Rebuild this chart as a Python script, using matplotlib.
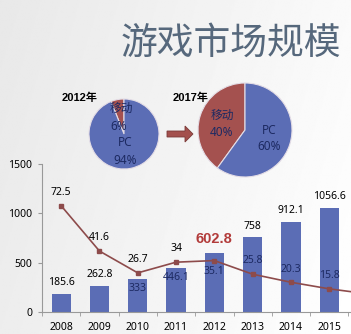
import matplotlib.pyplot as plt
import numpy as np
from matplotlib.patches import FancyArrow

# chart data
years = ["2008", "2009", "2010", "2011", "2012", "2013", "2014", "2015"]
market = [185.6, 262.8, 333, 446.1, 602.8, 758, 912.1, 1056.6]
growth = [72.5, 41.6, 26.7, 34, 35.1, 25.8, 20.3, 15.8]
growth_next = 12.4  # line runs off the right edge toward the next year
pie_labels = ["移动", "PC"]
share_2012 = [6, 94]
share_2017 = [40, 60]

plt.rcParams["font.family"] = ["Noto Sans", "Noto Sans CJK SC", "DejaVu Sans"]
BOLD_FONT = ["Liberation Sans", "Noto Sans CJK SC", "DejaVu Sans"]

W, H = 351, 334
BLUE = "#5b6db5"
RED = "#a4514f"
LINE = "#8d4b4b"
NAVY = "#1d2a62"

fig = plt.figure(figsize=(W / 100, H / 100), dpi=100)

# light gray-to-white background
bg = fig.add_axes([0, 0, 1, 1], zorder=-10)
gx = np.linspace(0, 1, 256)
gy = np.linspace(0, 1, 256)
grad = 0.91 + 0.07 * gx[None, :] + 0.02 * gy[:, None]
bg.imshow(grad, cmap="gray", vmin=0, vmax=1, aspect="auto", extent=[0, 1, 0, 1])
bg.axis("off")

# bar chart: market size
ax = fig.add_axes([42 / W, 22 / H, (W - 42) / W, 148 / H])
ax.patch.set_alpha(0)
x = np.arange(len(years))
ax.bar(x, market, width=0.5, color=BLUE, zorder=2)
ax.set_xlim(-0.5, -0.5 + (W - 42) / 38.3)
ax.set_ylim(0, 1500)
ax.set_yticks([0, 500, 1000, 1500])
ax.set_xticks(x, years)
ax.set_xticks(np.arange(-0.5, 8, 1), minor=True)
ax.tick_params(axis="x", which="major", length=0, pad=7, labelsize=7.5)
ax.tick_params(axis="x", which="minor", length=3, color="#999999")
ax.tick_params(axis="y", length=3, color="#999999", pad=4, labelsize=7.5)
for s in ["top", "right"]:
    ax.spines[s].set_visible(False)
for s in ["left", "bottom"]:
    ax.spines[s].set_color("#999999")

for i, v in enumerate(market):
    if i in (2, 3):
        ax.annotate(str(v), (i, v), xytext=(0, -7), textcoords="offset points",
                    ha="center", va="center", fontsize=7.5, color=NAVY)
    elif i == 4:
        ax.annotate(str(v), (i, v), xytext=(0, 9.5), textcoords="offset points",
                    ha="center", va="center", fontsize=10.5, fontweight="bold",
                    family=BOLD_FONT, color="#b23b3a")
    else:
        ax.annotate(str(v), (i, v), xytext=(0, 8), textcoords="offset points",
                    ha="center", va="center", fontsize=7.5, color="black")

# growth rate line on a hidden second axis
ax2 = ax.twinx()
ax2.set_ylim(0, 101)
ax2.plot(np.arange(len(growth) + 1), growth + [growth_next], color=LINE, lw=1.2,
         marker="s", ms=3.5, markevery=list(range(len(growth))), zorder=3)
ax2.axis("off")
for i, v in enumerate(growth):
    inside = i >= 4
    dy = -8 if i == 4 else 9.5
    ax2.annotate(str(v), (i, v), xytext=(0, dy), textcoords="offset points",
                 ha="center", va="center", fontsize=7.5,
                 color=NAVY if inside else "black")

# overlay in pixel coordinates for title, pies and arrow
ov = fig.add_axes([0, 0, 1, 1], zorder=5)
ov.patch.set_alpha(0)
wedge = dict(edgecolor="#e4dde6", linewidth=0.8)
ov.pie(share_2012, center=(124, H - 134), radius=35, startangle=90,
       colors=[RED, BLUE], wedgeprops=wedge, frame=True)
ov.pie(share_2017, center=(245, H - 130), radius=47, startangle=90,
       colors=[RED, BLUE], wedgeprops=wedge, frame=True)
ov.set_xlim(0, W)
ov.set_ylim(0, H)
ov.axis("off")

ov.add_patch(FancyArrow(167, H - 134, 26, 0, width=6, head_width=16,
                        head_length=8, length_includes_head=True,
                        fc="#a3504d", ec="#7a3a38", lw=0.6))

ov.text(231, H - 43, "游戏市场规模", fontsize=26.5, family="Noto Sans CJK SC",
        fontweight="light", color="#56687c", ha="center", va="center")
ov.text(62, H - 98, "2012年", fontsize=8, fontweight="bold", family=BOLD_FONT,
        ha="left", va="center")
ov.text(173, H - 98, "2017年", fontsize=8, fontweight="bold", family=BOLD_FONT,
        ha="left", va="center")

pie_text = [
    (121, 108, pie_labels[0]), (119, 126, f"{share_2012[0]}%"),
    (125, 143, pie_labels[1]), (125, 161, f"{share_2012[1]}%"),
    (222, 115, pie_labels[0]), (222, 132, f"{share_2017[0]}%"),
    (269, 130, pie_labels[1]), (269, 147, f"{share_2017[1]}%"),
]
for px, py, t in pie_text:
    ov.text(px, H - py, t, fontsize=8.5, color=NAVY, ha="center", va="center")

plt.savefig("out.png", dpi=100)
